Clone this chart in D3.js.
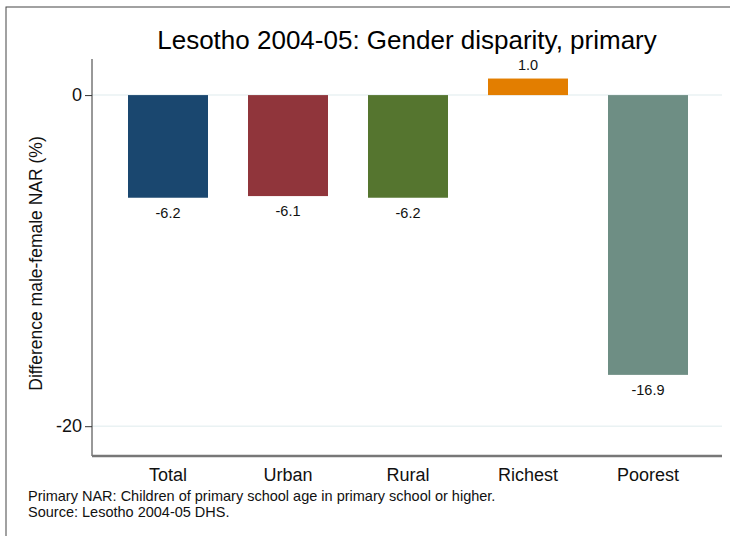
<!DOCTYPE html>
<html>
<head>
<meta charset="utf-8">
<script src="https://cdn.jsdelivr.net/npm/d3@7"></script>
<style>
  body { margin: 0; background: #fff; }
  svg { display: block; font-family: "Liberation Sans", Arial, sans-serif; }
</style>
</head>
<body>
<svg id="chart" width="730" height="536"></svg>
<script>
// chart values
const categories = ["Total", "Urban", "Rural", "Richest", "Poorest"];
const values = [-6.2, -6.1, -6.2, 1.0, -16.9];
const barColors = ["#1a476f", "#90353b", "#55752f", "#e37e00", "#6e8e84"];
const yTicks = [0, -20];
const titleText = "Lesotho 2004-05: Gender disparity, primary";
const yLabel = "Difference male-female NAR (%)";
const notes = ["Primary NAR: Children of primary school age in primary school or higher.",
               "Source: Lesotho 2004-05 DHS."];

const svg = d3.select("#chart");
const plot = {left: 92, right: 722, top: 59, bottom: 456};

// outer frame (only top and left edges show in the picture)
svg.append("rect")
    .attr("x", 6).attr("y", 7)
    .attr("width", 760).attr("height", 560)
    .attr("fill", "none").attr("stroke", "#444").attr("stroke-width", 1);

const x = d3.scaleBand()
    .domain(categories)
    .range([108, 708])
    .paddingInner(1 / 3)
    .paddingOuter(1 / 6);

const y = d3.scaleLinear()
    .domain([-21.8, 2.18])
    .range([plot.bottom, plot.top]);

// gridlines
svg.append("g").selectAll("line")
    .data(yTicks)
    .join("line")
    .attr("x1", plot.left).attr("x2", plot.right)
    .attr("y1", d => y(d)).attr("y2", d => y(d))
    .attr("stroke", "#eaf2f3").attr("stroke-width", 1.5);

// bars
svg.append("g").selectAll("rect")
    .data(values)
    .join("rect")
    .attr("x", (d, i) => x(categories[i]))
    .attr("width", x.bandwidth())
    .attr("y", d => y(Math.max(0, d)))
    .attr("height", d => Math.abs(y(d) - y(0)))
    .attr("fill", (d, i) => barColors[i]);

// value labels
svg.append("g").selectAll("text")
    .data(values)
    .join("text")
    .attr("x", (d, i) => x(categories[i]) + x.bandwidth() / 2)
    .attr("y", d => d < 0 ? y(d) + 20 : y(d) - 9)
    .attr("text-anchor", "middle")
    .attr("font-size", 14.5)
    .attr("fill", "#111")
    .text(d => d.toFixed(1));

// y axis
const yAxis = svg.append("g")
    .attr("transform", `translate(${plot.left},0)`)
    .call(d3.axisLeft(y).tickValues(yTicks).tickSize(7).tickPadding(3).tickFormat(d3.format("d")));
yAxis.select(".domain").attr("d", `M0,${plot.top}V${plot.bottom}`).attr("stroke", "#333");
yAxis.selectAll(".tick line").attr("stroke", "#333");
yAxis.selectAll(".tick text")
    .attr("font-size", 18).attr("fill", "#111")
    .attr("font-family", "Liberation Sans, Arial, sans-serif")
    .text(d => d < 0 ? "-" + Math.abs(d) : d);

// x axis
const xAxis = svg.append("g")
    .attr("transform", `translate(0,${plot.bottom})`)
    .call(d3.axisBottom(x).tickSize(0).tickPadding(12));
xAxis.select(".domain").attr("d", `M${plot.left},0H${plot.right}`)
    .attr("stroke", "#777").attr("stroke-width", 2.5);
xAxis.selectAll(".tick text")
    .attr("font-size", 18).attr("fill", "#111")
    .attr("font-family", "Liberation Sans, Arial, sans-serif");

// title
svg.append("text")
    .attr("x", (plot.left + plot.right) / 2)
    .attr("y", 49)
    .attr("text-anchor", "middle")
    .attr("font-size", 26)
    .attr("fill", "#000")
    .text(titleText);

// y axis title
svg.append("text")
    .attr("transform", `translate(42,${(plot.top + plot.bottom) / 2 + 6}) rotate(-90)`)
    .attr("text-anchor", "middle")
    .attr("font-size", 17.5)
    .attr("fill", "#111")
    .text(yLabel);

// notes
svg.append("g").selectAll("text")
    .data(notes)
    .join("text")
    .attr("x", 28)
    .attr("y", (d, i) => 501 + i * 16)
    .attr("font-size", 14.5)
    .attr("fill", "#111")
    .text(d => d);
</script>
</body>
</html>
